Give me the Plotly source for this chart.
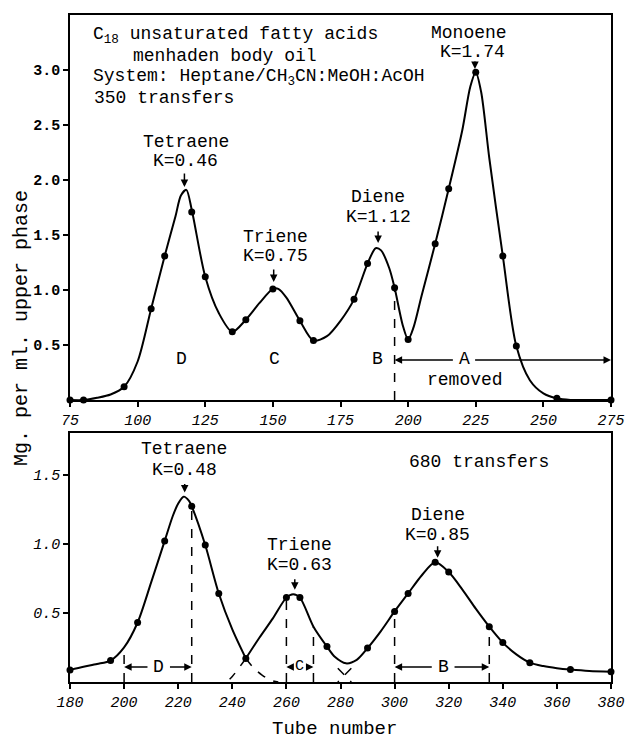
import plotly.graph_objects as go

# ---------------- data: upper panel (350 transfers) ----------------
top_dot_x = [75, 80, 95, 105, 110, 120, 125, 135, 140, 150, 160, 165, 180, 185,
             195, 200, 210, 215, 225, 235, 240, 255, 275]
top_dot_y = [0.0, 0.0, 0.12, 0.83, 1.31, 1.71, 1.12, 0.62, 0.73, 1.01, 0.72, 0.54,
             0.915, 1.24, 1.02, 0.55, 1.42, 1.92, 2.98, 1.31, 0.49, 0.015, 0.0]

top_curve_x = [75, 80, 85, 90, 95, 100, 105, 110, 114, 116, 118, 120, 125, 130, 135,
               140, 145, 150, 152, 155, 160, 165, 170, 175, 180, 185, 188, 190, 193,
               195, 198, 200, 202, 205, 210, 215, 220, 223, 225, 227, 230, 235, 240,
               245, 250, 255, 260, 265, 275]
top_curve_y = [0.0, 0.0, 0.02, 0.05, 0.12, 0.35, 0.83, 1.31, 1.67, 1.86, 1.91, 1.73,
               1.12, 0.79, 0.62, 0.73, 0.88, 1.01, 1.01, 0.93, 0.72, 0.54, 0.58, 0.72,
               0.915, 1.24, 1.38, 1.36, 1.2, 1.02, 0.68, 0.55, 0.66, 0.95, 1.42, 1.92,
               2.45, 2.85, 2.98, 2.8, 2.2, 1.31, 0.49, 0.18, 0.06, 0.015, 0.0, 0.0, 0.0]

top_cut_x = [195, 195]
top_cut_y = [0.0, 1.02]

# ---------------- data: lower panel (680 transfers) ----------------
bot_dot_x = [180, 195, 205, 215, 225, 230, 235, 245, 260, 265, 275, 290, 300, 305,
             315, 320, 335, 340, 350, 365, 380]
bot_dot_y = [0.087, 0.155, 0.43, 1.02, 1.27, 0.99, 0.64, 0.17, 0.61, 0.61, 0.256,
             0.245, 0.51, 0.64, 0.865, 0.795, 0.40, 0.285, 0.14, 0.09, 0.075]

tetra_x = [180, 185, 190, 195, 200, 205, 210, 215, 218, 220, 222, 224, 225, 230,
           235, 240, 245]
tetra_y = [0.087, 0.11, 0.13, 0.155, 0.25, 0.43, 0.72, 1.02, 1.2, 1.29, 1.34, 1.31,
           1.27, 0.99, 0.64, 0.38, 0.17]

rest_x = [245, 250, 255, 260, 262.5, 265, 270, 275, 278, 282, 286, 290, 295, 300,
          305, 310, 315, 320, 325, 330, 335, 340, 345, 350, 355, 360, 365, 372, 380]
rest_y = [0.17, 0.32, 0.46, 0.61, 0.635, 0.61, 0.40, 0.256, 0.18, 0.135, 0.16, 0.245,
          0.37, 0.51, 0.64, 0.77, 0.865, 0.795, 0.67, 0.53, 0.40, 0.285, 0.2, 0.14,
          0.115, 0.1, 0.09, 0.08, 0.075]

tetra_tail_x = [245, 248, 251, 254, 257]
tetra_tail_y = [0.17, 0.10, 0.05, 0.015, 0.0]
tri_tail_l_x = [245, 242, 240, 238]
tri_tail_l_y = [0.17, 0.09, 0.04, 0.0]
tri_tail_r_x = [279, 281.5, 284]
tri_tail_r_y = [0.10, 0.05, 0.0]
di_tail_l_x = [284, 281.5, 279]
di_tail_l_y = [0.10, 0.05, 0.0]

bot_cut_x = [200, 225, 260, 270, 300, 335]
bot_cut_y = [0.25, 1.27, 0.61, 0.40, 0.51, 0.40]

top_ticks = [75, 100, 125, 150, 175, 200, 225, 250, 275]
top_yticks = [0.5, 1.0, 1.5, 2.0, 2.5, 3.0]
bot_ticks = [180, 200, 220, 240, 260, 280, 300, 320, 340, 360, 380]
bot_yticks = [0.5, 1.0, 1.5]

FONT = "Liberation Mono"
INK = "black"

fig = go.Figure()

line_style = dict(color=INK, width=2, shape="spline", smoothing=0.8)
dash_style = dict(color=INK, width=1.5, dash="dash")

# upper panel
fig.add_trace(go.Scatter(x=top_curve_x, y=top_curve_y, mode="lines", line=line_style,
                         xaxis="x", yaxis="y", hoverinfo="skip"))
fig.add_trace(go.Scatter(x=top_dot_x, y=top_dot_y, mode="markers",
                         marker=dict(color=INK, size=7), cliponaxis=False,
                         xaxis="x", yaxis="y"))
fig.add_trace(go.Scatter(x=top_cut_x, y=top_cut_y, mode="lines", line=dash_style,
                         xaxis="x", yaxis="y", hoverinfo="skip"))

# lower panel
fig.add_trace(go.Scatter(x=tetra_x, y=tetra_y, mode="lines", line=line_style,
                         xaxis="x2", yaxis="y2", hoverinfo="skip"))
fig.add_trace(go.Scatter(x=rest_x, y=rest_y, mode="lines", line=line_style,
                         xaxis="x2", yaxis="y2", hoverinfo="skip"))
for tx, ty in [(tetra_tail_x, tetra_tail_y), (tri_tail_l_x, tri_tail_l_y),
               (tri_tail_r_x, tri_tail_r_y), (di_tail_l_x, di_tail_l_y)]:
    fig.add_trace(go.Scatter(x=tx, y=ty, mode="lines",
                             line=dict(color=INK, width=1.5, dash="dash", shape="spline"),
                             xaxis="x2", yaxis="y2", hoverinfo="skip"))
for cx, cy in zip(bot_cut_x, bot_cut_y):
    fig.add_trace(go.Scatter(x=[cx, cx], y=[0, cy], mode="lines", line=dash_style,
                             xaxis="x2", yaxis="y2", hoverinfo="skip"))
fig.add_trace(go.Scatter(x=bot_dot_x, y=bot_dot_y, mode="markers",
                         marker=dict(color=INK, size=7), cliponaxis=False,
                         xaxis="x2", yaxis="y2"))

ann = []


def txt(x, y, s, ax="x", ay="y", size=18, anchor="center"):
    ann.append(dict(x=x, y=y, xref=ax, yref=ay, text=s, showarrow=False,
                    xanchor=anchor, yanchor="middle",
                    font=dict(family=FONT, size=size, color=INK)))


def arrow(x, y, dy, ax="x", ay="y"):
    ann.append(dict(x=x, y=y, xref=ax, yref=ay, text="", showarrow=True,
                    ax=0, ay=dy, arrowhead=2, arrowsize=1, arrowwidth=1.5,
                    arrowcolor=INK, font=dict(size=10)))


def harrow(x0, x1, y, ax="x", ay="y"):
    ann.append(dict(x=x1, y=y, xref=ax, yref=ay, ax=x0, ay=y, axref=ax, ayref=ay,
                    text="", showarrow=True, arrowhead=2, arrowsize=1,
                    arrowwidth=1.5, arrowcolor=INK, font=dict(size=10)))


# upper panel texts
txt(82.9, 3.318, "C<sub>18</sub> unsaturated fatty acids", anchor="left")
txt(97.4, 3.127, "menhaden body oil", anchor="left")
txt(82.9, 2.936, "System: Heptane/CH<sub>3</sub>CN:MeOH:AcOH", anchor="left")
txt(83.3, 2.745, "350 transfers", anchor="left")

txt(222.6, 3.336, "Monoene")
txt(223.9, 3.164, "K=1.74")
arrow(224.7, 3.01, -9)

txt(117.7, 2.345, "Tetraene")
txt(117.7, 2.173, "K=0.46")
arrow(117.3, 1.936, -15)

txt(150.9, 1.482, "Triene")
txt(150.9, 1.309, "K=0.75")
arrow(150.3, 1.073, -14)

txt(188.9, 1.845, "Diene")
txt(188.9, 1.664, "K=1.12")
arrow(188.9, 1.427, -13)

txt(116.3, 0.37, "D")
txt(150.7, 0.37, "C")
txt(188.7, 0.37, "B")
txt(220.9, 0.37, "A")
txt(221.0, 0.18, "removed")
harrow(217.1, 195, 0.364)
harrow(224.2, 275, 0.364)

# lower panel texts
txt(331.2, 1.594, "680 transfers", "x2", "y2")
txt(222.3, 1.681, "Tetraene", "x2", "y2")
txt(222.3, 1.536, "K=0.48", "x2", "y2")
arrow(222.4, 1.37, -10, "x2", "y2")

txt(264.7, 0.993, "Triene", "x2", "y2")
txt(264.7, 0.848, "K=0.63", "x2", "y2")
arrow(263.1, 0.667, -12, "x2", "y2")

txt(315.9, 1.21, "Diene", "x2", "y2")
txt(315.9, 1.065, "K=0.85", "x2", "y2")
arrow(315.9, 0.899, -13, "x2", "y2")

txt(212.7, 0.109, "D", "x2", "y2")
harrow(209.2, 200, 0.109, "x2", "y2")
harrow(216.4, 225, 0.109, "x2", "y2")
txt(265.0, 0.109, "C", "x2", "y2", size=15)
harrow(262.9, 260, 0.109, "x2", "y2")
harrow(267.1, 270, 0.109, "x2", "y2")
txt(317.9, 0.109, "B", "x2", "y2")
harrow(314.3, 300, 0.109, "x2", "y2")
harrow(321.6, 335, 0.109, "x2", "y2")

# axis titles
ann.append(dict(x=-0.0906, y=0.5307, xref="paper", yref="paper",
                text="Mg. per ml. upper phase", textangle=-90, showarrow=False,
                xanchor="center", yanchor="middle",
                font=dict(family=FONT, size=20, color=INK)))
ann.append(dict(x=0.488, y=-0.071, xref="paper", yref="paper",
                text="Tube number", showarrow=False, xanchor="center",
                yanchor="middle", font=dict(family=FONT, size=19, color=INK)))

axis_common = dict(showline=True, linecolor=INK, linewidth=1.5, mirror=True,
                   ticks="outside", ticklen=5, tickcolor=INK, tickwidth=1.5,
                   showgrid=False, zeroline=False)

fig.update_layout(
    width=637, height=743,
    margin=dict(l=70, r=15, t=15, b=61),
    paper_bgcolor="white", plot_bgcolor="white",
    showlegend=False,
    annotations=ann,
    xaxis=dict(domain=[0, 1], range=[75, 275], tickvals=top_ticks, anchor="y",
               tickfont=dict(family=FONT, size=15, color=INK, style="italic"),
               **axis_common),
    yaxis=dict(domain=[0.4228, 1], range=[0, 3.5], tickvals=top_yticks,
               ticktext=[f"{v:.1f}" for v in top_yticks], anchor="x",
               tickfont=dict(family=FONT, size=15, color=INK, weight="bold"),
               **axis_common),
    xaxis2=dict(domain=[0, 1], range=[180, 380], tickvals=bot_ticks, anchor="y2",
                tickfont=dict(family=FONT, size=15, color=INK, style="italic"),
                **axis_common),
    yaxis2=dict(domain=[0, 0.3733], range=[0, 1.8], tickvals=bot_yticks,
                ticktext=[f"{v:.1f}" for v in bot_yticks], anchor="x2",
                tickfont=dict(family=FONT, size=15, color=INK, style="italic"),
                **axis_common),
)

fig.write_html("out.html")
